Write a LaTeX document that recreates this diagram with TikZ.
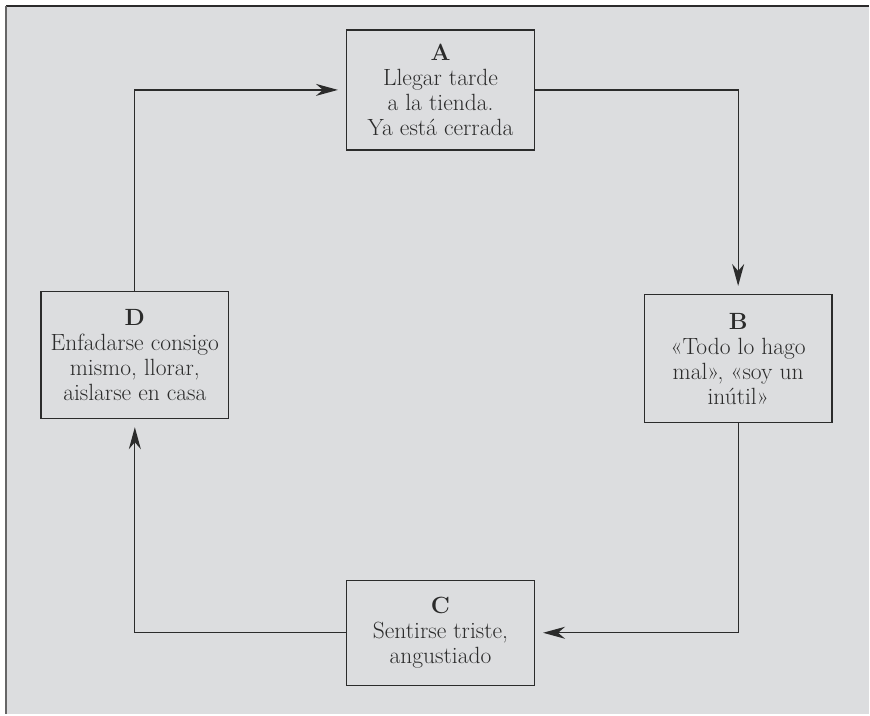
\documentclass[tikz,border=0pt]{standalone}
\usetikzlibrary{arrows.meta}
\definecolor{panel}{HTML}{DCDDDF}
\definecolor{ink}{HTML}{2B2B2B}
\begin{document}
\begin{tikzpicture}[
        x=1pt,y=-1pt,
        box/.style={draw=ink,line width=1.4pt,inner sep=0pt,minimum width=188pt,align=center,text=ink,font=\fontsize{23.5}{25}\selectfont},
        flow/.style={draw=ink,line width=1.3pt,-{Stealth[length=22pt,width=12pt,inset=7pt]},shorten >=8pt}
    ]
        \fill [white] (0,0) rectangle (870,715);
        \fill [panel] (6,6) rectangle (870,715);
        \draw [ink,line width=2pt] (6,6) -- (870,6);
        \draw [gray!80!black,line width=2.5pt] (6,6) -- (6,715);

        \node[box,minimum height=120pt] (A) at (441,90) {\textbf{A}\\Llegar tarde\\a la tienda.\\Ya está cerrada};
        \node[box,minimum height=128pt] (B) at (739,359) {\textbf{B}\\«Todo lo hago\\mal», «soy un\\inútil»};
        \node[box,minimum height=105pt] (C) at (441,633.5) {\textbf{C}\\Sentirse triste,\\angustiado};
        \node[box,minimum height=127pt] (D) at (135,355.5) {\textbf{D}\\Enfadarse consigo\\mismo, llorar,\\aislarse en casa};

        \draw [flow] (D.north) |- (A.west);
        \draw [flow] (A.east) -| (B.north);
        \draw [flow] (B.south) |- (C.east);
        \draw [flow] (C.west) -| (D.south);
    \end{tikzpicture}
\end{document}
